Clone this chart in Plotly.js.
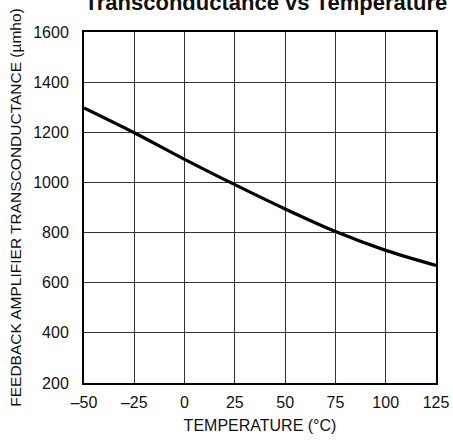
<!DOCTYPE html>
<html><head><meta charset="utf-8">
<script src="https://cdn.plot.ly/plotly-3.0.1.min.js"></script>
<style>html,body{margin:0;padding:0;background:#fff}</style>
</head><body>
<div id="chart" style="width:453px;height:442px"></div>
<script>
const temperatureC = [-50, -25, 0, 25, 50, 75, 100, 125];
const transconductance = [1297, 1198, 1092, 991, 894, 804, 729, 669];
const xTickVals = [-50, -25, 0, 25, 50, 75, 100, 125];
const xTickText = ['\u201350', '\u201325', '0', '25', '50', '75', '100', '125'];
const yTickVals = [200, 400, 600, 800, 1000, 1200, 1400, 1600];

const FONT = '"Liberation Sans", Arial, Helvetica, sans-serif';

Plotly.newPlot('chart', [{
  x: temperatureC, y: transconductance, type: 'scatter', mode: 'lines',
  line: {color: '#000', width: 3.2, shape: 'spline', smoothing: 0.9},
  hoverinfo: 'skip'
}], {
  width: 453, height: 442,
  margin: {l: 84, r: 17, t: 32, b: 59},
  paper_bgcolor: '#fff', plot_bgcolor: '#fff',
  showlegend: false,
  font: {family: FONT, color: '#111', size: 16},
  title: {text: '<b>Transconductance vs Temperature</b>', font: {family: FONT, size: 22, color: '#111'},
    x: 0.587, xanchor: 'center', yref: 'container', y: 0.977, yanchor: 'bottom'},
  xaxis: {range: [-50, 125], tickvals: xTickVals, ticktext: xTickText, ticks: '',
    showgrid: true, gridcolor: '#333', gridwidth: 1, zeroline: false,
    showline: true, linecolor: '#000', linewidth: 2, mirror: true,
    tickfont: {size: 16}, ticklabelstandoff: 4,
    title: {text: 'TEMPERATURE (\u00B0C)', font: {size: 16}, standoff: 10}},
  yaxis: {range: [200, 1600], tickvals: yTickVals, ticks: '',
    showgrid: true, gridcolor: '#333', gridwidth: 1, zeroline: false,
    showline: true, linecolor: '#000', linewidth: 2, mirror: true,
    tickfont: {size: 16}, ticklabelstandoff: 10,
    title: {text: 'FEEDBACK AMPLIFIER TRANSCONDUCTANCE (\u00B5mho)', font: {size: 15.5}, standoff: 8}}
}, {displayModeBar: false, staticPlot: true});
</script>
</body></html>
